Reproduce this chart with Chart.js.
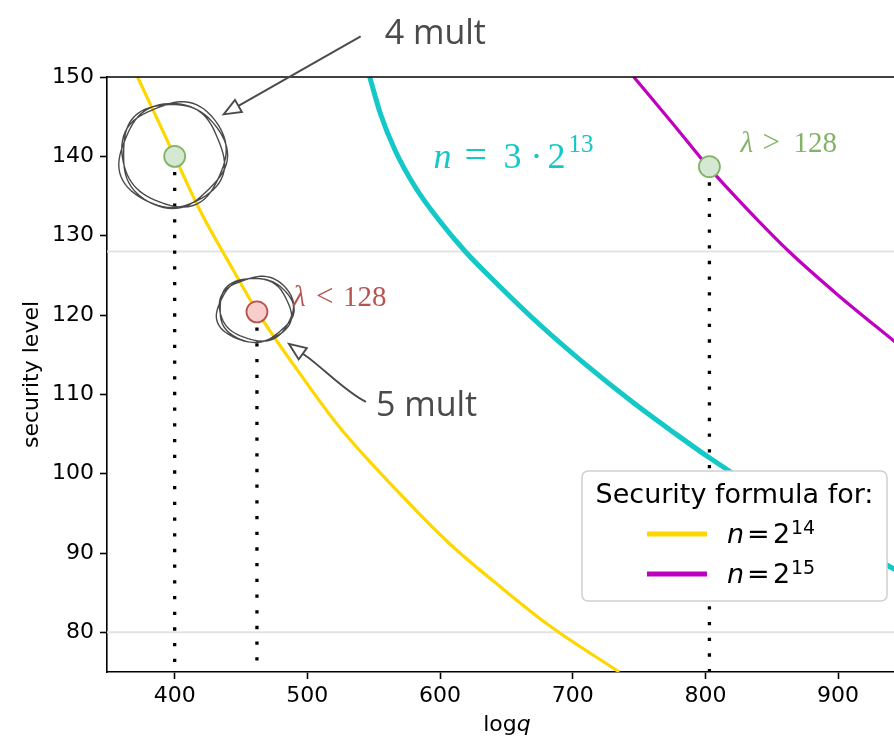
<!DOCTYPE html>
<html>
<head>
<meta charset="utf-8">
<script src="https://cdn.jsdelivr.net/npm/chart.js@4.4.1/dist/chart.umd.min.js"></script>
<style>
  html, body { margin: 0; padding: 0; background: #fff; overflow: hidden; }
  #wrap { position: absolute; left: 0; top: 0; width: 1000px; height: 741px; }
</style>
</head>
<body>
<div id="wrap"><canvas id="chart" width="1000" height="741"></canvas></div>
<script>
// security level curves (logq -> lambda)
const logqN14 = [372, 400, 419, 444, 462, 494, 524, 569, 607, 645, 682, 735];
const secN14  = [150, 140, 133.2, 125.7, 120.5, 112.7, 105.9, 97.6, 91.2, 85.8, 80.9, 75];

const logqN3x13 = [547, 555, 566, 581, 599, 619, 645, 675, 708, 746, 776, 803, 870, 943];
const secN3x13  = [150, 145.4, 140.8, 136.2, 132, 128, 123.6, 118.8, 114, 108.9, 105.2, 102, 94.8, 87.9];

const logqN15 = [746, 775, 802, 830, 863, 900, 943];
const secN15  = [150, 144.2, 138.7, 133.6, 128, 122.5, 116.6];

// marked parameter sets
const markLogq = [400, 462, 803];
const markSec  = [140, 120.4, 138.7];

const refLevels = [128, 80];

const xTicks = [400, 500, 600, 700, 800, 900];
const yTicks = [80, 90, 100, 110, 120, 130, 140, 150];

const legendTitle = 'Security formula for:';
const legendExps = ['14', '15'];

const xMin = 349, xMax = 1022, yMin = 75, yMax = 150;

const YELLOW = '#ffd700', CYAN = '#14c8c8', MAGENTA = '#bf00bf';
const GREEN_FILL = '#d5e8d4', GREEN_EDGE = '#82b366';
const RED_FILL = '#f8cecc', RED_EDGE = '#b85450';
const INK = '#4a4a4a';

function pts(xs, ys) {
    return xs.map((v, i) => ({x: v, y: ys[i]}));
}

function curve(xs, ys, color, width) {
    return {
        data: pts(xs, ys),
        showLine: true,
        borderColor: color,
        borderWidth: width,
        pointRadius: 0,
        cubicInterpolationMode: 'monotone',
        clip: 0,
        order: 5
    };
}

const datasets = [];

refLevels.forEach(lv => {
    datasets.push({
        data: [{x: xMin, y: lv}, {x: xMax, y: lv}],
        showLine: true,
        borderColor: '#e3e3e3',
        borderWidth: 2,
        pointRadius: 0,
        clip: 0,
        order: 10
    });
});

datasets.push(curve(logqN14, secN14, YELLOW, 3.2));
datasets.push(curve(logqN3x13, secN3x13, CYAN, 5));
datasets.push(curve(logqN15, secN15, MAGENTA, 3.2));

// dotted drops from each marked point to the x axis
markLogq.forEach((v, i) => {
    datasets.push({
        data: [{x: v, y: markSec[i]}, {x: v, y: yMin}],
        showLine: true,
        borderColor: '#000',
        borderWidth: 3.3,
        borderDash: [3.3, 12.4],
        borderCapStyle: 'butt',
        pointRadius: 0,
        clip: 0,
        order: 3
    });
});

datasets.push({
    data: pts(markLogq, markSec),
    showLine: false,
    pointRadius: 10.5,
    pointBorderWidth: 1.8,
    pointBackgroundColor: [GREEN_FILL, RED_FILL, GREEN_FILL],
    pointBorderColor: [GREEN_EDGE, RED_EDGE, GREEN_EDGE],
    order: 1
});

// text made of pieces: [text, font, dx, dy]
function runs(ctx, x, y, parts, color) {
    ctx.fillStyle = color;
    ctx.textBaseline = 'alphabetic';
    ctx.textAlign = 'left';
    parts.forEach(p => {
        ctx.font = p[1];
        ctx.fillText(p[0], x + p[2], y + p[3]);
    });
}

function sketchLoop(ctx, cx, cy, rx, ry, passes) {
    ctx.beginPath();
    for (let k = 0; k < passes; k++) {
        const t0 = -2.3 + k * 0.9;
        for (let i = 0; i <= 80; i++) {
            const t = t0 + i / 80 * (Math.PI * 2 + 0.35);
            const w = 1 + 0.035 * Math.sin(3 * t + k * 2.1) + 0.02 * Math.sin(5 * t + k);
            const px = cx + rx * w * Math.cos(t) + k * 1.5;
            const py = cy + ry * w * Math.sin(t) - k * 1.2;
            if (i === 0) ctx.moveTo(px, py); else ctx.lineTo(px, py);
        }
    }
    ctx.stroke();
}

function openHead(ctx, tx, ty, fx, fy, len, half) {
    const a = Math.atan2(ty - fy, tx - fx);
    const bx = tx - len * Math.cos(a), by = ty - len * Math.sin(a);
    const nx = -Math.sin(a) * half, ny = Math.cos(a) * half;
    ctx.beginPath();
    ctx.moveTo(tx, ty);
    ctx.lineTo(bx + nx, by + ny);
    ctx.lineTo(bx - nx, by - ny);
    ctx.closePath();
    ctx.fillStyle = '#fff';
    ctx.fill();
    ctx.stroke();
    return [bx, by];
}

const annotate = {
    id: 'annotate',
    afterDatasetsDraw(chart) {
        const {ctx, chartArea: a} = chart;
        const sx = chart.scales.x, sy = chart.scales.y;
        ctx.save();

        // top spine
        ctx.strokeStyle = '#000';
        ctx.lineWidth = 1.6;
        ctx.beginPath();
        ctx.moveTo(a.left, a.top);
        ctx.lineTo(a.right, a.top);
        ctx.stroke();

        const p1x = sx.getPixelForValue(markLogq[0]), p1y = sy.getPixelForValue(markSec[0]);
        const p2x = sx.getPixelForValue(markLogq[1]), p2y = sy.getPixelForValue(markSec[1]);
        const p3x = sx.getPixelForValue(markLogq[2]), p3y = sy.getPixelForValue(markSec[2]);

        // sketchy circles
        ctx.strokeStyle = INK;
        ctx.lineWidth = 1.4;
        sketchLoop(ctx, p1x - 3, p1y, 52, 52, 3);
        sketchLoop(ctx, p2x - 3, p2y - 1, 37, 32, 3);

        // arrow to the 4 mult circle
        ctx.lineWidth = 1.9;
        let b = openHead(ctx, p1x + 49, p1y - 42, p1x + 186, p1y - 120, 17, 7);
        ctx.beginPath();
        ctx.moveTo(p1x + 186, p1y - 120);
        ctx.lineTo(b[0], b[1]);
        ctx.stroke();

        // arrow to the 5 mult circle
        b = openHead(ctx, p2x + 32, p2y + 32, p2x + 46, p2y + 42, 17, 7);
        ctx.beginPath();
        ctx.moveTo(p2x + 109, p2y + 90);
        ctx.bezierCurveTo(p2x + 88, p2y + 80, p2x + 62, p2y + 52, b[0], b[1]);
        ctx.stroke();

        const sans = '"Open Sans", "Noto Sans", sans-serif';
        runs(ctx, p1x + 210, p1y - 112, [['4 mult', '34px ' + sans, 0, 0]], INK);
        runs(ctx, p2x + 119, p2y + 104, [['5 mult', '34px ' + sans, 0, 0]], INK);

        const serif = '"Liberation Serif", serif';
        runs(ctx, p2x + 36, p2y - 6, [
            ['\u03bb', 'italic 29px ' + serif, 0, 0],
            ['<', '31px ' + serif, 23, 0],
            ['128', '29px ' + serif, 50, 0]
        ], RED_EDGE);
        runs(ctx, p3x + 31, p3y - 15, [
            ['\u03bb', 'italic 29px ' + serif, 0, 0],
            ['>', '31px ' + serif, 22, 0],
            ['128', '29px ' + serif, 53, 0]
        ], GREEN_EDGE);

        // curve label for n = 3*2^13
        const cx = sx.getPixelForValue(595), cy = sy.getPixelForValue(138.5);
        runs(ctx, cx, cy, [
            ['n', 'italic 36px ' + serif, 0, 0],
            ['=', '40px ' + serif, 31, 0],
            ['3', '36px ' + serif, 70, 0],
            ['\u00b7', '36px ' + serif, 97, 0],
            ['2', '36px ' + serif, 114, 0],
            ['13', '25px ' + serif, 135, -16]
        ], CYAN);

        ctx.restore();
    },
    afterDraw(chart) {
        const {ctx, chartArea: a} = chart;
        ctx.save();
        const dv = '"DejaVu Sans", sans-serif';

        // axis titles
        ctx.fillStyle = '#000';
        ctx.textBaseline = 'alphabetic';
        ctx.font = '22px ' + dv;
        const w1 = ctx.measureText('log').width;
        ctx.font = 'italic 22px ' + dv;
        const w2 = ctx.measureText('q').width;
        const tx = a.left + 400 - (w1 + w2) / 2;
        ctx.font = '22px ' + dv;
        ctx.fillText('log', tx, 731);
        ctx.font = 'italic 22px ' + dv;
        ctx.fillText('q', tx + w1, 731);

        ctx.translate(38, (a.top + a.bottom) / 2);
        ctx.rotate(-Math.PI / 2);
        ctx.textAlign = 'center';
        ctx.font = '22px ' + dv;
        ctx.fillText('security level', 0, 0);
        ctx.setTransform(1, 0, 0, 1, 0, 0);

        // legend box, drawn on top of the curves
        const lx = 582, ly = 471, lw = 305, lh = 130;
        ctx.beginPath();
        ctx.roundRect(lx, ly, lw, lh, 6);
        ctx.fillStyle = '#fff';
        ctx.fill();
        ctx.strokeStyle = '#cfcfcf';
        ctx.lineWidth = 1.5;
        ctx.stroke();

        ctx.fillStyle = '#000';
        ctx.textAlign = 'center';
        ctx.font = '27px ' + dv;
        ctx.fillText(legendTitle, lx + lw / 2, ly + 32);

        const cols = [YELLOW, MAGENTA];
        legendExps.forEach((e, i) => {
            const yy = ly + 63 + i * 40;
            ctx.strokeStyle = cols[i];
            ctx.lineWidth = 5;
            ctx.beginPath();
            ctx.moveTo(lx + 65, yy);
            ctx.lineTo(lx + 125, yy);
            ctx.stroke();
            runs(ctx, lx + 145, yy + 9, [
                ['n', 'italic 27px ' + dv, 0, 0],
                ['=', '27px ' + dv, 20, 0],
                ['2', '27px ' + dv, 46, 0],
                [e, '19px ' + dv, 64, -9]
            ], '#000');
        });
        ctx.restore();
    }
};

new Chart(document.getElementById('chart'), {
    type: 'scatter',
    data: {datasets},
    options: {
        responsive: false,
        animation: false,
        layout: {autoPadding: false, padding: {top: 77, left: 0, right: 0, bottom: 0}},
        plugins: {legend: {display: false}, tooltip: {enabled: false}},
        scales: {
            x: {
                type: 'linear',
                min: xMin,
                max: xMax,
                afterBuildTicks: s => { s.ticks = xTicks.map(v => ({value: v})); },
                afterFit: s => { s.height = 69; },
                grid: {display: true, drawOnChartArea: false, drawTicks: true, tickLength: 7, tickColor: '#000', tickWidth: 1.6},
                border: {display: true, color: '#000', width: 1.6},
                ticks: {font: {family: 'DejaVu Sans', size: 22}, color: '#000', padding: 4, maxRotation: 0, autoSkip: false}
            },
            y: {
                type: 'linear',
                min: yMin,
                max: yMax,
                afterBuildTicks: s => { s.ticks = yTicks.map(v => ({value: v})); },
                afterFit: s => { s.width = 107; },
                grid: {display: true, drawOnChartArea: false, drawTicks: true, tickLength: 7, tickColor: '#000', tickWidth: 1.6},
                border: {display: true, color: '#000', width: 1.6},
                ticks: {font: {family: 'DejaVu Sans', size: 22}, color: '#000', padding: 6, autoSkip: false}
            }
        }
    },
    plugins: [annotate]
});
</script>
</body>
</html>
